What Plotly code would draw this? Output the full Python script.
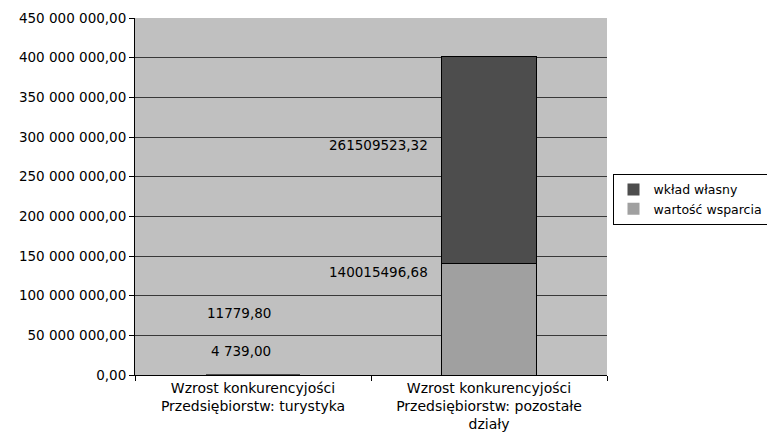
import plotly.graph_objects as go

categories = [
    "Wzrost konkurencyjości<br>Przedsiębiorstw: turystyka",
    "Wzrost konkurencyjości<br>Przedsiębiorstw: pozostałe<br>działy",
]
wartosc_wsparcia = [4739.00, 140015496.68]
wklad_wlasny = [11779.80, 261509523.32]
label_wsparcia = ["4 739,00", "140015496,68"]
label_wklad = ["11779,80", "261509523,32"]

tick_vals = [0, 50e6, 100e6, 150e6, 200e6, 250e6, 300e6, 350e6, 400e6, 450e6]
tick_text = [
    "0,00", "50 000 000,00", "100 000 000,00", "150 000 000,00",
    "200 000 000,00", "250 000 000,00", "300 000 000,00",
    "350 000 000,00", "400 000 000,00", "450 000 000,00",
]

FONT = "DejaVu Sans, Arial, sans-serif"

fig = go.Figure()
fig.add_trace(go.Bar(
    x=categories, y=wartosc_wsparcia, name="wartość wsparcia",
    marker=dict(color="#A0A0A0", line=dict(color="#000000", width=[0, 1])),
))
fig.add_trace(go.Bar(
    x=categories, y=wklad_wlasny, name="wkład własny",
    marker=dict(color="#4D4D4D", line=dict(color="#000000", width=[0, 1])),
))

# Excel-style data labels, placed where the original drew them
label_spots = [
    (categories[0], label_wsparcia[0], 0.066, 20),
    (categories[0], label_wklad[0], 0.175, 20),
    (categories[1], label_wsparcia[1], 0.288, -59),
    (categories[1], label_wklad[1], 0.644, -59),
]
for cat, txt, ypos, shift in label_spots:
    fig.add_annotation(
        x=cat, y=ypos, xref="x", yref="paper", text=txt, showarrow=False,
        xanchor="right", yanchor="middle", xshift=shift,
        font=dict(family=FONT, size=13.5, color="#000000"),
    )

fig.update_layout(
    barmode="stack",
    bargap=0.6,
    width=775,
    height=440,
    margin=dict(l=127, r=176, t=10, b=73),
    paper_bgcolor="#FFFFFF",
    plot_bgcolor="#C0C0C0",
    font=dict(family=FONT, size=13.5, color="#000000"),
    legend=dict(
        xref="container", yref="container",
        x=0.78, y=0.565, xanchor="left", yanchor="middle",
        traceorder="reversed",
        bordercolor="#000000", borderwidth=1, bgcolor="#FFFFFF",
        font=dict(size=12.5),
        itemwidth=30, tracegroupgap=0,
    ),
    showlegend=True,
)
fig.update_yaxes(
    range=[0, 450e6], tickvals=tick_vals, ticktext=tick_text,
    showgrid=True, gridcolor="#383838", gridwidth=1,
    showline=True, linecolor="#000000", linewidth=1,
    ticks="outside", ticklen=5, tickcolor="#000000",
    zeroline=False, automargin=False,
)
fig.update_xaxes(
    showline=True, linecolor="#000000", linewidth=1,
    ticks="outside", tickson="boundaries", ticklen=5, tickcolor="#000000",
    tickfont=dict(size=14),
    mirror=False, automargin=False,
)

fig.write_html("out.html")
